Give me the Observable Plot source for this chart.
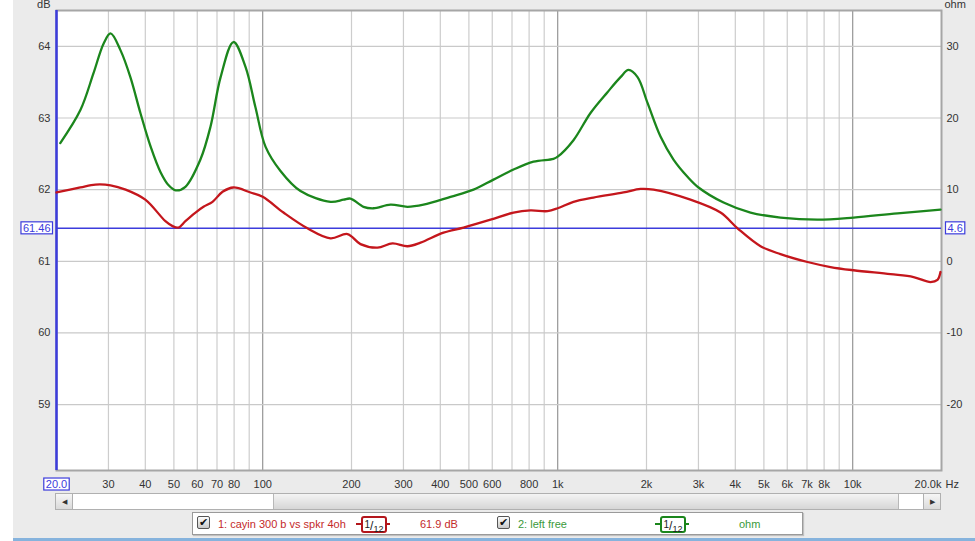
<!DOCTYPE html>
<html>
<head>
<meta charset="utf-8">
<script src="https://cdn.jsdelivr.net/npm/d3@7"></script>
<script src="https://cdn.jsdelivr.net/npm/@observablehq/plot@0.6"></script>
<style>
html,body{margin:0;padding:0;}
body{width:975px;height:541px;overflow:hidden;background:#ebebeb;font-family:"Liberation Sans",Arial,sans-serif;position:relative;}
#strip{position:absolute;left:0;top:0;width:13px;height:541px;background:#fff;}
#bottomline{position:absolute;left:13px;top:538px;width:962px;height:3px;background:#86b3dd;}
#chart{position:absolute;left:0;top:0;}
#scroll{position:absolute;left:55px;top:493px;width:886px;height:17px;border:1px solid #b0b0b0;background:#fff;box-sizing:border-box;}
#scroll .btn{position:absolute;top:0;width:16px;height:15px;background:linear-gradient(#f6f6f6,#dadada);font-size:7px;color:#333;text-align:center;line-height:15px;}
#scroll .lb{left:0;border-right:1px solid #b0b0b0;}
#scroll .rb{right:0;border-left:1px solid #b0b0b0;}
#scroll .thumb{position:absolute;top:0;left:217px;width:624px;height:15px;background:linear-gradient(#f4f4f4,#d6d6d6);border-left:1px solid #b8b8b8;border-right:1px solid #b8b8b8;}
#legend{position:absolute;left:192px;top:512px;width:611px;height:23px;background:#fff;border:1px solid #9a9a9a;box-sizing:border-box;box-shadow:1px 1px 1px #c0c0c0;font-size:11px;}
#legend .it{position:absolute;top:5px;white-space:nowrap;}
.cb{position:absolute;top:3px;width:13px;height:13px;border:1px solid #555;border-radius:2px;background:linear-gradient(#fdfdfd,#c8c8c8);box-sizing:border-box;font-family:"DejaVu Sans";font-size:11px;line-height:12px;text-align:center;color:#111;}
.filt{position:absolute;top:3px;height:14px;}
.filt .dash{position:absolute;top:7px;height:2px;width:34px;left:0;}
.filt .bx{position:absolute;left:5px;top:0;width:22px;height:13px;border:2px solid;border-radius:3px;background:#fff;line-height:13px;text-align:center;color:#222;font-family:"Liberation Sans",Arial,sans-serif;}
.red{color:#c42a2a;}
.grn{color:#3a9a3a;}
</style>
</head>
<body>
<div id="strip"></div>
<div id="chart"></div>
<div id="scroll"><div class="btn lb">&#9664;</div><div class="thumb"></div><div class="btn rb">&#9654;</div></div>
<div id="legend"></div>
<div id="bottomline"></div>
<script>
// ---- data ----
// series 1: cayin 300 b vs spkr 4oh (dB, left axis)
const redFreq = [20, 24.1, 27.1, 30.5, 34.3, 40.0, 46.8, 49.5, 51.8, 54.7, 59.2, 63.0, 67.6, 73.1, 79.6, 90.9, 100, 117.6, 141.8, 169.8, 193.8, 214.5, 245, 275.5, 309.7, 342.8, 410.2, 479.5, 591.9, 708.5, 808.9, 923.6, 1000, 1131, 1322, 1671, 1909, 2112, 2819, 3564, 4070, 4870, 5692, 7028, 8411, 10068, 13430, 16080, 18360, 19380, 19840];
const redDb = [61.96, 62.03, 62.07, 62.06, 62.0, 61.86, 61.56, 61.49, 61.47, 61.56, 61.68, 61.76, 61.83, 61.97, 62.03, 61.96, 61.9, 61.68, 61.46, 61.32, 61.38, 61.24, 61.19, 61.25, 61.21, 61.26, 61.40, 61.47, 61.58, 61.68, 61.71, 61.70, 61.74, 61.83, 61.89, 61.96, 62.01, 62.0, 61.86, 61.68, 61.46, 61.21, 61.10, 60.99, 60.92, 60.875, 60.82, 60.78, 60.71, 60.74, 60.85];
// series 2: left free (ohm, right axis)
const greenFreq = [20.6, 24.1, 26.7, 28.9, 30.5, 33.0, 35.6, 38.5, 41.7, 45.1, 48.0, 50.7, 54.7, 61.5, 66.5, 72.0, 79.6, 87.5, 94.5, 102.2, 114.9, 134.3, 169.8, 188, 198.4, 219.6, 237.5, 271.2, 309.7, 350.9, 433.2, 518.4, 605.9, 708.5, 828, 967.7, 1000, 1131, 1292, 1475, 1633, 1738, 1865, 2016, 2231, 2469, 2754, 3002, 3649, 4504, 5692, 7598, 10068, 14190, 19840];
const greenOhm = [16.5, 21.1, 26.25, 30.4, 31.8, 29.4, 25.7, 20.7, 16.0, 12.4, 10.6, 9.9, 10.4, 14.2, 18.75, 25.7, 30.6, 27.1, 21.5, 16.0, 12.6, 9.8, 8.3, 8.6, 8.75, 7.6, 7.4, 7.9, 7.6, 7.9, 9.0, 10.0, 11.4, 12.8, 13.9, 14.3, 14.6, 16.9, 20.7, 23.6, 25.7, 26.7, 25.7, 22.1, 17.4, 14.2, 11.8, 10.3, 8.2, 6.8, 6.1, 5.8, 6.1, 6.7, 7.2];
// axes
const xTickValues = [30, 40, 50, 60, 70, 80, 100, 200, 300, 400, 500, 600, 800, 1000, 2000, 3000, 4000, 5000, 6000, 7000, 8000, 10000];
const xEndLabel = ["20.0k"];
const xUnit = ["Hz"];
const xGridMinor = [30, 40, 50, 60, 70, 80, 90, 200, 300, 400, 500, 600, 700, 800, 900, 2000, 3000, 4000, 5000, 6000, 7000, 8000, 9000];
const xGridMajor = [100, 1000, 10000];
const dbTicks = [59, 60, 61, 62, 63, 64];
const ohmTicks = [-20, -10, 0, 10, 20, 30];
// cursor
const cursorFreq = [20.0];
const cursorDb = [61.46];
const cursorOhm = [4.6];
// legend
const legendNames = ["1: cayin 300 b vs spkr 4oh", "2: left free"];
const legendValues = ["61.9 dB", "ohm"];

// ohm axis is tied to dB axis: 0 ohm = 61 dB, 10 ohm per dB
const ohmToDb = o => 61 + o / 10;

const red = redFreq.map((f, i) => ({f, v: redDb[i]}));
const green = greenFreq.map((f, i) => ({f, v: ohmToDb(greenOhm[i])}));

const blue = "#3c3cdc";
const fmtX = d => d >= 1000 ? (d / 1000) + "k" : String(d);

const chart = Plot.plot({
  width: 975,
  height: 490,
  marginLeft: 56,
  marginRight: 34,
  marginTop: 10,
  marginBottom: 20,
  style: {fontFamily: "'Liberation Sans', Arial, sans-serif", fontSize: "11px", color: "#333", background: "transparent", overflow: "visible"},
  x: {type: "log", domain: [20, 20000], axis: null},
  y: {domain: [58.08, 64.5]},
  marks: [
    Plot.frame({fill: "white"}),
    Plot.ruleX(xGridMinor, {stroke: "#cdcdcd", strokeWidth: 1.2}),
    Plot.ruleX(xGridMajor, {stroke: "#959595", strokeWidth: 1.2}),
    Plot.ruleY(dbTicks, {stroke: "#c9c9c9", strokeWidth: 1.2}),
    Plot.frame({stroke: "#a6a6a6", strokeWidth: 2}),
    Plot.ruleY(cursorDb, {stroke: blue, strokeWidth: 1.4}),
    Plot.ruleX(cursorFreq, {stroke: blue, strokeWidth: 2.5}),
    Plot.line(green, {x: "f", y: "v", stroke: "#1b861c", strokeWidth: 2.3, curve: "catmull-rom"}),
    Plot.line(red, {x: "f", y: "v", stroke: "#c4161c", strokeWidth: 2.3, curve: "catmull-rom"}),
    Plot.axisY(dbTicks, {anchor: "left", tickSize: 0, tickPadding: 6, label: null, tickFormat: d => String(d)}),
    Plot.axisY(ohmTicks.map(ohmToDb), {anchor: "right", tickSize: 0, tickPadding: 5, label: null, tickFormat: d => String(Math.round((d - 61) * 10))}),
    Plot.text(xTickValues, {x: d => d, frameAnchor: "bottom", dy: 14, lineAnchor: "middle", text: fmtX}),
    Plot.text(xEndLabel, {x: () => 20000, frameAnchor: "bottom", dy: 14, textAnchor: "end", lineAnchor: "middle", text: d => d}),
    Plot.text(xUnit, {x: () => 20000, frameAnchor: "bottom", dy: 14, dx: 4, textAnchor: "start", lineAnchor: "middle", text: d => d}),
    Plot.text(["dB"], {frameAnchor: "top-left", dx: -6, dy: -10, textAnchor: "end", lineAnchor: "top", text: d => d}),
    Plot.text(["ohm"], {frameAnchor: "top-right", dx: 3, dy: -10, textAnchor: "start", lineAnchor: "top", text: d => d}),
    Plot.text(cursorDb, {y: d => d, frameAnchor: "left", dx: -6, textAnchor: "end", text: d => d.toFixed(2), fill: blue, className: "cursor-tag"}),
    Plot.text(cursorOhm, {y: () => cursorDb[0], frameAnchor: "right", dx: 6, textAnchor: "start", text: d => d.toFixed(1), fill: blue, className: "cursor-tag"}),
    Plot.text(cursorFreq, {x: d => d, frameAnchor: "bottom", dy: 14, lineAnchor: "middle", text: d => d.toFixed(1), fill: blue, className: "cursor-tag"})
  ]
});
document.getElementById("chart").append(chart);

// boxes around cursor read-outs
const tagTexts = new Set();
chart.querySelectorAll("g.cursor-tag text").forEach(t => tagTexts.add(t));
chart.querySelectorAll("g").forEach(g => {
  const f = (g.getAttribute("fill") || "").toLowerCase();
  if (f === blue) g.querySelectorAll("text").forEach(t => tagTexts.add(t));
});
chart.querySelectorAll("text").forEach(t => {
  const f = (t.getAttribute("fill") || "").toLowerCase();
  if (f === blue) tagTexts.add(t);
});
tagTexts.forEach(t => {
  let b;
  try { b = t.getBBox(); } catch (e) { return; }
  const r = document.createElementNS("http://www.w3.org/2000/svg", "rect");
  r.setAttribute("x", b.x - 2);
  r.setAttribute("y", b.y);
  r.setAttribute("width", b.width + 4);
  r.setAttribute("height", b.height);
  r.setAttribute("fill", "white");
  r.setAttribute("stroke", blue);
  r.setAttribute("stroke-width", 1.2);
  const tr = t.getAttribute("transform");
  if (tr) r.setAttribute("transform", tr);
  t.parentNode.insertBefore(r, t);
});

// legend
const lg = document.getElementById("legend");
const filt = (col, left) => `<div class="filt" style="left:${left}px"><div class="dash" style="background:${col}"></div><div class="bx" style="border-color:${col}"><span style="font-size:10px;vertical-align:2px">1</span><span style="font-size:12px">/</span><span style="font-size:9px;vertical-align:-2px">12</span></div></div>`;
lg.innerHTML =
  `<div class="cb" style="left:4px">&#10004;</div>` +
  `<div class="it red" style="left:25px">${legendNames[0]}</div>` +
  filt("#b3161c", 163) +
  `<div class="it red" style="left:227px">${legendValues[0]}</div>` +
  `<div class="cb" style="left:304px">&#10004;</div>` +
  `<div class="it grn" style="left:325px">${legendNames[1]}</div>` +
  filt("#1b861c", 462) +
  `<div class="it grn" style="left:546px">${legendValues[1]}</div>`;
</script>
</body>
</html>
